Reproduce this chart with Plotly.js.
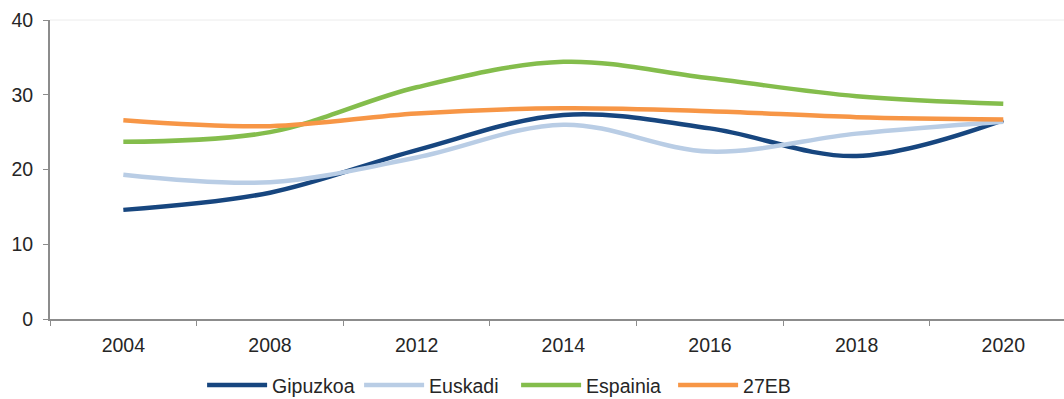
<!DOCTYPE html>
<html>
<head>
<meta charset="utf-8">
<script src="https://cdn.plot.ly/plotly-3.0.1.min.js"></script>
<style>html,body{margin:0;padding:0;background:#fff;}#chart{width:1064px;height:399px;}</style>
</head>
<body>
<div id="chart"></div>
<script>
const years = ["2004", "2008", "2012", "2014", "2016", "2018", "2020"];
const gipuzkoa = [14.6, 16.9, 22.6, 27.3, 25.5, 21.8, 26.6];
const euskadi  = [19.3, 18.3, 21.6, 26.0, 22.4, 24.8, 26.4];
const espainia = [23.7, 25.0, 31.0, 34.4, 32.2, 29.8, 28.8];
const eb27     = [26.6, 25.8, 27.5, 28.2, 27.8, 27.0, 26.7];
const seriesNames = ["Gipuzkoa", "Euskadi", "Espainia", "27EB"];
const seriesColors = ["#17467F", "#B9CDE5", "#84BD4C", "#F79646"];
const seriesValues = [gipuzkoa, euskadi, espainia, eb27];

const traces = seriesValues.map((vals, i) => ({
  type: "scatter",
  mode: "lines",
  x: years,
  y: vals,
  name: seriesNames[i],
  line: {color: seriesColors[i], width: 4.5, shape: "spline", smoothing: 1}
}));

const font = {family: "Liberation Sans, Arial, sans-serif", size: 19.5, color: "#262626"};

const layout = {
  width: 1064, height: 399,
  margin: {l: 50, r: 0, t: 20, b: 80, autoexpand: false},
  paper_bgcolor: "#fff", plot_bgcolor: "#fff",
  font: font,
  showlegend: true,
  legend: {
    orientation: "h", x: 0.15, xanchor: "left", y: -0.222, yanchor: "middle",
    font: font, itemwidth: 60, entrywidth: 82, tracegroupgap: 0, bgcolor: "rgba(0,0,0,0)"
  },
  xaxis: {
    type: "category", range: [-0.5, 6.414],
    showline: true, linecolor: "#8c8c8c", linewidth: 2,
    ticks: "outside", tickson: "boundaries", ticklen: 5, tickcolor: "#8c8c8c", tickwidth: 1,
    showgrid: false, zeroline: false, tickfont: font, ticklabelstandoff: 8, fixedrange: true
  },
  yaxis: {
    range: [0, 40], tickvals: [0, 10, 20, 30, 40],
    showline: true, linecolor: "#8c8c8c", linewidth: 2,
    ticks: "outside", ticklen: 5, tickcolor: "#8c8c8c", tickwidth: 1,
    showgrid: false, zeroline: false, tickfont: font, ticklabelstandoff: 6, fixedrange: true
  },
  shapes: [{type: "line", xref: "paper", yref: "paper", x0: 0, x1: 1, y0: 1, y1: 1,
            line: {color: "#ececec", width: 1}}]
};

Plotly.newPlot("chart", traces, layout, {displayModeBar: false, staticPlot: true});
</script>
</body>
</html>
